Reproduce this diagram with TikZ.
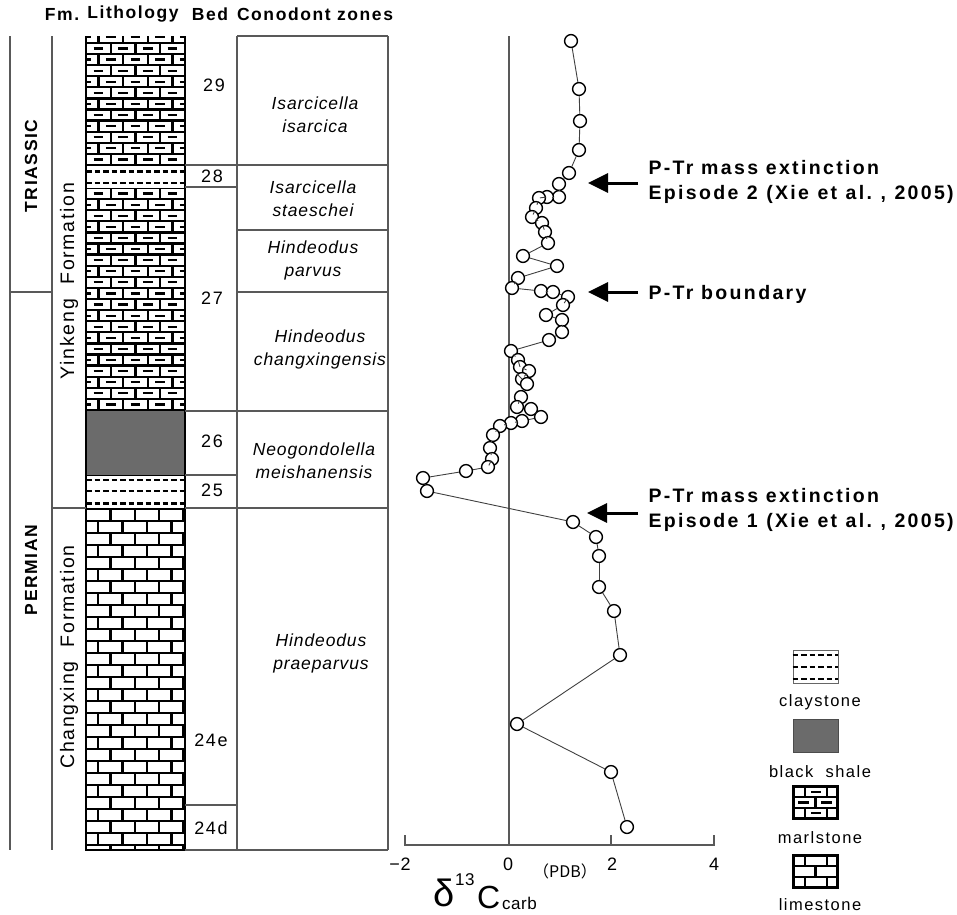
\documentclass[tikz,border=0pt]{standalone}
\usepackage{fontspec}
\setmainfont{Liberation Sans}[LetterSpace=3]
\newfontfamily\wide{Liberation Sans}[LetterSpace=9]
\newfontfamily\wider{Liberation Sans}[LetterSpace=12]
\newfontfamily\zonefont{Liberation Sans}[LetterSpace=5]
\newfontfamily\cjkparen{Noto Sans CJK SC}
\usetikzlibrary{arrows.meta}
\begin{document}
\begin{tikzpicture}[x=1pt,y=-1pt,
  frame/.style={draw=black!65,line width=1.1pt},
  brick/.style={line width=2.3pt,line cap=rect},
  bdash/.style={line width=2.2pt},
  clay/.style={line width=2.2pt,dash pattern=on 5.5pt off 3pt},
  pt/.style={circle,draw=black,fill=white,line width=1.4pt,minimum size=12.8pt,inner sep=0pt},
  dline/.style={draw=black!75,line width=0.9pt},
  bedno/.style={font=\fontsize{18}{20}\selectfont\wide},
  zone/.style={font=\fontsize{17.5}{23}\selectfont\zonefont\itshape,align=center},
  hdr/.style={font=\fontsize{17.5}{19}\selectfont\wide\bfseries},
  fm/.style={font=\fontsize{19.5}{21}\selectfont\wide,rotate=90},
  era/.style={font=\fontsize{17.5}{20}\selectfont\wide\bfseries,rotate=90},
  lbl/.style={font=\fontsize{19.5}{24.5}\selectfont\wider\bfseries,align=left,anchor=west},
  arr/.style={line width=3pt,-{Triangle[length=20pt,width=19pt]}},
  tick/.style={font=\fontsize{18}{20}\selectfont},
  leg/.style={font=\fontsize{16.5}{18}\selectfont\wide}
]
\useasboundingbox (0,0) rectangle (957,914);

% ---------- header ----------
\node[hdr] (hfm) at (62,14) {Fm.};
\node[hdr] (hlith) at (133,14) {Lithology};
\node[hdr] (hbed) at (210,14) {Bed};
\node[hdr] (hcon) at (315,14) {Conodont zones};

% ---------- marlstone bed 29 ----------
\begin{scope}
\clip (86,36) rectangle (185,165);
\foreach \i in {0,...,12} {
  \pgfmathsetmacro\yb{165-\i*11.1}
  \pgfmathsetmacro\yt{\yb-11.1}
  \pgfmathsetmacro\ym{\yb-5.55}
  \pgfmathsetmacro\off{mod(\i,2)*12.35}
  \draw[brick] (80,\yb) -- (190,\yb);
  \foreach \j in {-1,...,4} {
    \pgfmathsetmacro\xx{86+\off+\j*24.7}
    \pgfmathsetmacro\da{\xx+7.5}
    \pgfmathsetmacro\db{\xx+17.2}
    \draw[brick] (\xx,\yb) -- (\xx,\yt);
    \draw[bdash] (\da,\ym) -- (\db,\ym);
  }
}
\end{scope}
% ---------- marlstone bed 27 ----------
\begin{scope}
\clip (86,188) rectangle (185,411);
\foreach \i in {0,...,20} {
  \pgfmathsetmacro\yt{188+\i*11.1}
  \pgfmathsetmacro\yb{\yt+11.1}
  \pgfmathsetmacro\ym{\yt+5.55}
  \pgfmathsetmacro\off{mod(\i,2)*12.35}
  \draw[brick] (80,\yt) -- (190,\yt);
  \foreach \j in {-1,...,4} {
    \pgfmathsetmacro\xx{86+\off+\j*24.7}
    \pgfmathsetmacro\da{\xx+7.5}
    \pgfmathsetmacro\db{\xx+17.2}
    \draw[brick] (\xx,\yt) -- (\xx,\yb);
    \draw[bdash] (\da,\ym) -- (\db,\ym);
  }
}
\end{scope}
\draw[brick] (86,411) -- (185,411);
\draw[brick] (86,165) -- (185,165);
% ---------- claystone beds ----------
\draw[clay] (86,171.5) -- (185,171.5);
\draw[clay] (86,183) -- (185,183);
\draw[clay] (86,480) -- (185,480);
\draw[clay] (86,491) -- (185,491);
\draw[clay] (86,503.5) -- (185,503.5);
% ---------- black shale ----------
\fill[black!58] (86,411) rectangle (185,475);
\draw[line width=1pt] (86,475) -- (185,475);
% ---------- limestone ----------
\begin{scope}
\clip (86,509) rectangle (185,850);
\foreach \i in {0,...,28} {
  \pgfmathsetmacro\yt{509+\i*12}
  \pgfmathsetmacro\yb{\yt+12}
  \pgfmathsetmacro\off{mod(\i,2)*12.2}
  \draw[brick] (80,\yt) -- (190,\yt);
  \foreach \j in {-1,...,4} {
    \pgfmathsetmacro\xx{86+\off+\j*24.4}
    \draw[brick] (\xx,\yt) -- (\xx,\yb);
  }
}
\end{scope}
\draw[brick] (86,509) -- (185,509);
\draw[brick] (86,850) -- (185,850);
\draw[line width=2.4pt] (86,36) -- (86,850);
\draw[line width=2.4pt] (185,36) -- (185,850);

% ---------- frames ----------
\draw[frame] (10,36) -- (10,850);
\draw[frame] (52,36) -- (52,850);
\draw[frame] (10,292) -- (52,292);
\draw[frame] (237,36) -- (388,36);
\draw[frame] (237,36) -- (237,850);
\draw[frame] (388,36) -- (388,850);
\draw[frame] (185,850) -- (388,850);
\draw[frame] (185,165) -- (388,165);
\draw[frame] (185,187) -- (237,187);
\draw[frame] (237,230) -- (388,230);
\draw[frame] (237,292) -- (388,292);
\draw[frame] (185,411) -- (388,411);
\draw[frame] (185,475) -- (237,475);
\draw[frame] (52,508) -- (86,508);
\draw[frame] (185,508) -- (388,508);
\draw[frame] (185,805) -- (237,805);

% ---------- left column labels ----------
\node[era] (tri) at (31,166) {TRIASSIC};
\node[era] (perm) at (31,570) {PERMIAN};
\node[fm] (yk) at (69,281) {Yinkeng\ \ Formation};
\node[fm] (cx) at (69,657) {Changxing\ \ Formation};

% ---------- bed numbers ----------
\node[bedno] (b29) at (214,85) {29};
\node[bedno] (b28) at (212,176) {28};
\node[bedno] (b27) at (212,298) {27};
\node[bedno] (b26) at (212,441) {26};
\node[bedno] (b25) at (212,490) {25};
\node[bedno] (b24e) at (211,740) {24e};
\node[bedno] (b24d) at (211,828) {24d};

% ---------- conodont zones ----------
\node[zone] (z1) at (315,115) {Isarcicella\\isarcica};
\node[zone] (z2) at (313,199) {Isarcicella\\staeschei};
\node[zone] (z3) at (313,260) {Hindeodus\\parvus};
\node[zone] (z4) at (320,349) {Hindeodus\\changxingensis};
\node[zone] (z5) at (314,461) {Neogondolella\\meishanensis};
\node[zone] (z6) at (321,653) {Hindeodus\\praeparvus};

% ---------- axis ----------
\coordinate (zt) at (509,36);
\coordinate (zb) at (509,845);
\draw[frame] (zt) -- (zb);
\coordinate (ax0) at (405,845);
\coordinate (ax1) at (714,845);
\draw[frame] (405,835) -- (ax0) -- (ax1) -- (714,835);
\draw[frame] (611,835) -- (611,845);
\node[tick] (t1) at (400,864) {−2};
\node[tick] (t2) at (508,864) {0};
\node[tick] (t3) at (612,864) {2};
\node[tick] (t4) at (714,864) {4};
\node[anchor=base west,inner sep=0pt,font=\fontsize{38}{38}\selectfont] (dl) at (433,906) {δ};
\node[anchor=base west,inner sep=0pt,font=\fontsize{17}{17}\selectfont] (d13) at (455,885) {13};
\node[anchor=base west,inner sep=0pt,font=\fontsize{32}{32}\selectfont] (dC) at (477,908) {C};
\node[anchor=base west,inner sep=0pt,font=\fontsize{17}{17}\selectfont] (dcarb) at (502,909) {carb};
\node[anchor=base west,inner sep=0pt,font=\fontsize{16}{16}\selectfont\cjkparen] (dpdb) at (533,877) {（PDB）};

% ---------- data ----------
\foreach \x/\y [count=\i] in {571/41,579/89,580/121,579/150,569/173,559/184,559/197,547/197,539/198,536/208,532/217,542/223,545/232,548/243,523/256,557/266,518/278,512/288,541/291,553/292,568/297,563/305,546/315,562/320,562/332,549/340,511/351,518/360,520/367,529/371,522/379,527/384,521/397,517/407,531/409,541/417,522/421,511/423,500/426,493/435,490/448,492/459,488/467,466/471,423/478,427/491,573/522,596/537,599/556,599/587,614/611,620/655,517/724,611/772,627/827}
  \node[pt] (p\i) at (\x,\y) {};
\foreach \i [remember=\i as \j (initially 1)] in {2,...,55}
  \draw[dline] (p\j) -- (p\i);

% ---------- arrows ----------
\coordinate (a1s) at (638,183); \coordinate (a1e) at (588,183);
\coordinate (a2s) at (638,292); \coordinate (a2e) at (588,292);
\coordinate (a3s) at (638,513); \coordinate (a3e) at (587,513);
\draw[arr] (a1s) -- (a1e);
\draw[arr] (a2s) -- (a2e);
\draw[arr] (a3s) -- (a3e);
\node[lbl] (l1) at (645,182) {P-Tr mass extinction\\Episode\hspace{8.5pt}2\hspace{8.5pt}(Xie\hspace{8.5pt}et\hspace{8.5pt}al.\hspace{8.5pt},\hspace{8.5pt}2005)};
\node[lbl] (l2) at (645,294) {P-Tr boundary};
\node[lbl] (l3) at (645,510) {P-Tr mass extinction\\Episode\hspace{8.5pt}1\hspace{8.5pt}(Xie\hspace{8.5pt}et\hspace{8.5pt}al.\hspace{8.5pt},\hspace{8.5pt}2005)};

% ---------- legend ----------
\node[draw=black!60,line width=0.8pt,minimum width=45pt,minimum height=33pt,inner sep=0pt] (lgc) at (815.5,666.5) {};
\draw[clay,line width=2pt] (lgc.west |- 0,654.5) -- (lgc.east |- 0,654.5);
\draw[clay,line width=2pt] (lgc.west |- 0,666.5) -- (lgc.east |- 0,666.5);
\draw[clay,line width=2pt] (lgc.west |- 0,679) -- (lgc.east |- 0,679);
\node[leg] (lgct) at (820,702) {claystone};
\node[draw=black!70,fill=black!58,line width=0.8pt,minimum width=45pt,minimum height=33pt,inner sep=0pt] (lgs) at (815.5,735.5) {};
\node[leg] (lgst) at (820,772) {black\ \ shale};
% marlstone symbol
\node[draw=black,line width=2.3pt,minimum width=44pt,minimum height=32pt,inner sep=0pt] (lgm) at (815.5,802.5) {};
\draw[brick] (793.5,797.2) -- (837.5,797.2);
\draw[brick] (793.5,807.8) -- (837.5,807.8);
\draw[brick] (805,786.5) -- (805,797.2);
\draw[brick] (827,786.5) -- (827,797.2);
\draw[brick] (815.5,797.2) -- (815.5,807.8);
\draw[brick] (805,807.8) -- (805,818.5);
\draw[brick] (827,807.8) -- (827,818.5);
\draw[bdash] (811,791.8) -- (821,791.8);
\draw[bdash] (798,802.5) -- (809,802.5);
\draw[bdash] (821,802.5) -- (832,802.5);
\draw[bdash] (811,813.2) -- (821,813.2);
\node[leg] (lgmt) at (820,838) {marlstone};
% limestone symbol
\node[draw=black,line width=2.3pt,minimum width=44pt,minimum height=32pt,inner sep=0pt] (lgl) at (815.5,871.5) {};
\draw[brick] (793.5,866.2) -- (837.5,866.2);
\draw[brick] (793.5,876.8) -- (837.5,876.8);
\draw[brick] (805,855.5) -- (805,866.2);
\draw[brick] (827,855.5) -- (827,866.2);
\draw[brick] (815.5,866.2) -- (815.5,876.8);
\draw[brick] (805,876.8) -- (805,887.5);
\draw[brick] (827,876.8) -- (827,887.5);
\node[leg] (lglt) at (820,905) {limestone};
\end{tikzpicture}
\end{document}
